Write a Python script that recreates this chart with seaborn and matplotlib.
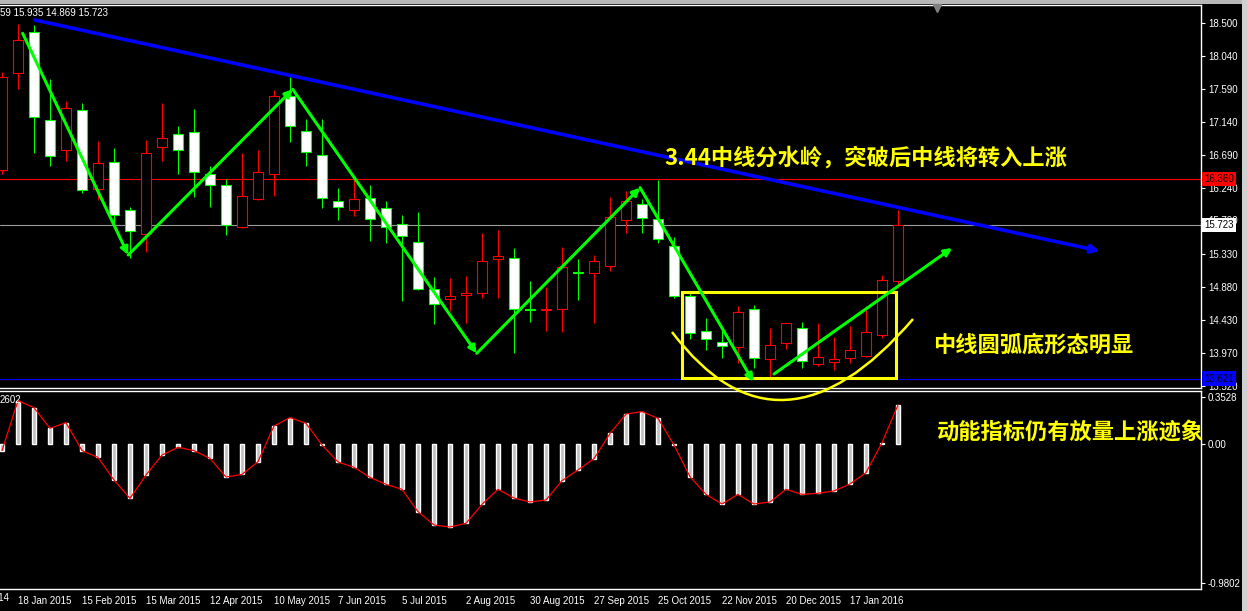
import numpy as np
import pandas as pd
import matplotlib
matplotlib.use('Agg')
import matplotlib.pyplot as plt
import matplotlib.transforms as mtrans
from matplotlib.patches import Rectangle, PathPatch
from matplotlib.path import Path
import seaborn as sns

# ---------------- data ----------------
dates = pd.date_range('2015-01-11', periods=57, freq='W-SUN')
opens = [16.48, 17.81, 18.37, 17.16, 16.75, 17.30, 16.22, 16.59, 15.93, 15.60,
         16.79, 16.97, 17.00, 16.42, 16.27, 15.70, 16.09, 16.42, 17.50, 17.01,
         16.68, 16.05, 15.93, 16.09, 15.96, 15.74, 15.49, 14.85, 14.71, 14.77,
         14.80, 15.26, 15.28, 14.58, 14.56, 14.57, 15.075, 15.07, 15.16, 15.79,
         16.01, 15.81, 15.44, 14.75, 14.27, 14.12, 14.05, 14.57, 13.89, 14.11,
         14.31, 13.82, 13.85, 13.90, 13.93, 14.22, 14.959]
highs = [17.82, 18.48, 18.47, 17.73, 17.43, 17.40, 16.88, 16.78, 15.97, 16.89,
         17.40, 17.08, 17.32, 16.54, 16.36, 16.72, 16.76, 17.58, 17.75, 17.18,
         17.18, 16.23, 16.37, 16.28, 16.06, 15.86, 15.91, 15.01, 15.00, 15.03,
         15.62, 15.66, 15.41, 14.96, 14.88, 15.43, 15.26, 15.32, 16.11, 16.19,
         16.09, 16.35, 15.56, 14.79, 14.45, 14.29, 14.62, 14.63, 14.31, 14.39,
         14.40, 14.38, 14.19, 14.34, 14.56, 15.04, 15.935]
lows = [16.42, 17.59, 16.72, 16.54, 16.60, 16.17, 16.07, 15.75, 15.27, 15.36,
        16.61, 16.43, 16.11, 15.98, 15.59, 15.69, 16.07, 16.13, 16.87, 16.54,
        15.96, 15.80, 15.85, 15.51, 15.48, 14.68, 14.83, 14.37, 14.55, 14.38,
        14.73, 14.72, 13.97, 14.40, 14.27, 14.26, 14.70, 14.39, 15.10, 15.62,
        15.62, 15.48, 14.72, 14.17, 14.01, 13.90, 13.83, 13.76, 13.65, 14.03,
        13.77, 13.79, 13.74, 13.83, 13.92, 14.18, 14.869]
closes = [17.76, 18.26, 17.21, 16.67, 17.33, 16.20, 16.57, 15.87, 15.64, 16.71,
          16.92, 16.75, 16.46, 16.27, 15.72, 16.13, 16.46, 17.49, 17.09, 16.73,
          16.10, 15.97, 16.09, 15.81, 15.70, 15.57, 14.85, 14.65, 14.76, 14.80,
          15.23, 15.30, 14.57, 14.56, 14.58, 15.15, 15.07, 15.23, 15.83, 16.05,
          15.82, 15.54, 14.76, 14.24, 14.16, 14.07, 14.53, 13.91, 14.08, 14.38,
          13.86, 13.92, 13.89, 14.01, 14.26, 14.97, 15.723]
macd = [-0.06, 0.392, 0.329, 0.142, 0.193, -0.060, -0.121, -0.326, -0.492, -0.281,
        -0.100, -0.030, -0.060, -0.130, -0.299, -0.275, -0.160, 0.163, 0.238, 0.187,
        -0.009, -0.163, -0.211, -0.302, -0.365, -0.410, -0.612, -0.733, -0.751, -0.718,
        -0.546, -0.410, -0.489, -0.525, -0.507, -0.332, -0.235, -0.133, 0.095, 0.271,
        0.293, 0.232, -0.009, -0.296, -0.456, -0.543, -0.456, -0.543, -0.525, -0.410,
        -0.456, -0.446, -0.425, -0.362, -0.259, 0.012, 0.3528]
price_ticks = [18.500, 18.040, 17.590, 17.140, 16.690, 16.240, 15.790, 15.330,
               14.880, 14.430, 13.970, 13.520]
level_red, level_last, level_blue = 16.360, 15.723, 13.621
header_text = "59 15.935 14.869 15.723"
sub_header = "2602"
sub_labels = ["0.3528", "0.00", "-0.9802"]

# annotation geometry (bar index, price)
blue_trend = [(2.06, 18.537), (68.6, 15.37)]
green_path = [((1.29, 18.355), (7.89, 15.316)),
              ((7.89, 15.316), (18.17, 17.587)),
              ((18.17, 17.587), (29.67, 13.968)),
              ((29.67, 13.968), (39.88, 16.238)),
              ((39.88, 16.238), (46.96, 13.579)),
              ((48.25, 13.684), (59.38, 15.412))]
box_x, box_y = (42.5, 55.875), (13.625, 14.804)
arc_pts = [(41.875, 14.26), (48.6, 12.31), (56.94, 14.438)]
note1 = ("3.44中线分水岭，突破后中线将转入上涨", 41.375, 16.645)
note2 = ("中线圆弧底形态明显", 58.19, 14.082)
note3 = ("动能指标仍有放量上涨迹象", 58.44, 0.109)

# ---------------- style ----------------
sns.set_theme(style='dark')
plt.rcParams.update({
    'figure.facecolor': 'black', 'axes.facecolor': 'black',
    'savefig.facecolor': 'black', 'axes.edgecolor': 'white',
    'axes.grid': False, 'text.color': 'white',
    'xtick.color': 'white', 'ytick.color': 'white',
})
plt.rcParams['font.family'] = ['Liberation Sans', 'DejaVu Sans']
cjk = ['Noto Sans CJK SC', 'DejaVu Sans']
FS = 7

W, H = 1247, 611
fig = plt.figure(figsize=(W / 100, H / 100), dpi=100)


def fx(px):
    return px / W


def fy(py):
    return 1 - py / H


ax = fig.add_axes([0, fy(388), fx(1201), fy(5) - fy(388)])
ax2 = fig.add_axes([0, fy(589), fx(1201), fy(391) - fy(589)])
ax.set_zorder(3)

xlim = (-0.125, 74.9375)
for a in (ax, ax2):
    a.set_facecolor('black')
    a.set_xlim(*xlim)
    for s in ('top', 'right', 'bottom'):
        a.spines[s].set_color('white')
        a.spines[s].set_linewidth(1.0)
    a.spines['left'].set_visible(False)
ax.set_ylim(13.4924, 18.7426)
ax2.set_ylim(-1.3122, 0.4796)

# ---------------- candles ----------------
idx = np.arange(len(opens))
o, h, l, c = map(np.array, (opens, highs, lows, closes))
up = c > o
dn = ~up
bw = 0.625
ax.vlines(idx[up], l[up], h[up], color='#FF0000', lw=0.8, zorder=2)
ax.vlines(idx[dn], l[dn], h[dn], color='#00FF00', lw=0.8, zorder=2)
ax.bar(idx[up], (c - o)[up], bottom=o[up], width=bw, facecolor='black',
       edgecolor='#FF0000', lw=0.8, zorder=3)
ax.bar(idx[dn], (o - c)[dn] + 0.001, bottom=c[dn], width=bw, facecolor='white',
       edgecolor='#00FF00', lw=0.8, zorder=3)

ax.axhline(level_red, color='#FF0000', lw=0.8, zorder=1)
ax.axhline(level_last, color='#9A9A9A', lw=0.8, zorder=1)
ax.axhline(level_blue, color='#0000FF', lw=0.8, zorder=1)

# price axis on the right
ax.yaxis.tick_right()
ax.set_yticks(price_ticks)
ax.set_yticklabels([f"{v:.3f}" for v in price_ticks])
ax.tick_params(axis='y', length=3, width=0.8, pad=2, labelsize=FS,
               colors='white', direction='out')
ax.set_xticks([])
btrans = mtrans.blended_transform_factory(ax.transAxes, ax.transData)
for val, fc in ((level_red, '#FF0000'), (level_last, 'white'), (level_blue, '#0000FF')):
    ax.text(1.0028, val, f"{val:.3f}", transform=btrans, ha='left', va='center',
            fontsize=FS, color='black', zorder=10, clip_on=False,
            bbox=dict(boxstyle='square,pad=0.22', fc=fc, ec='none'))

ax.text(0.0, 0.979, header_text, transform=ax.transAxes, ha='left', va='center',
        fontsize=FS, color='white')

# ---------------- annotations ----------------
ax.annotate('', xy=blue_trend[1], xytext=blue_trend[0], annotation_clip=False,
            arrowprops=dict(arrowstyle='-|>', color='#0000FF', lw=2.6,
                            shrinkA=0, shrinkB=0, mutation_scale=12), zorder=6)
for start, end in green_path:
    ax.annotate('', xy=end, xytext=start, annotation_clip=False,
                arrowprops=dict(arrowstyle='-|>', color='#00FF00', lw=2.2,
                                shrinkA=0, shrinkB=0, mutation_scale=11), zorder=7)
ax.add_patch(Rectangle((box_x[0], box_y[0]), box_x[1] - box_x[0], box_y[1] - box_y[0],
                       fill=False, ec='#FFFF00', lw=2.2, zorder=6))
arc = PathPatch(Path(arc_pts, [Path.MOVETO, Path.CURVE3, Path.CURVE3]),
                fill=False, ec='#FFFF00', lw=1.8, zorder=6, clip_on=False)
ax.add_patch(arc)

for txt, x, y in (note1, note2):
    ax.text(x, y, txt, ha='left', va='center', fontsize=16, fontweight='bold',
            color='#FFFF00', family=cjk, zorder=8)

# chart shift marker
ax.plot([58.44], [18.70], marker='v', color='#808080', ms=6, clip_on=False, zorder=9)

# ---------------- momentum sub-window ----------------
ax2.bar(idx, macd, width=0.19, color='#C0C0C0', zorder=2)
sns.lineplot(x=idx, y=macd, ax=ax2, color='#FF0000', lw=0.9, zorder=3, legend=False)
ax2.set_xlabel('')
ax2.set_ylabel('')
ax2.text(0.0, 0.955, sub_header, transform=ax2.transAxes, ha='left', va='center',
         fontsize=FS, color='white')
ax2.text(note3[1], note3[2], note3[0], ha='left', va='center', fontsize=16,
         fontweight='bold', color='#FFFF00', family=cjk, zorder=8)

lo, hi = ax2.get_ylim()
sub_pos = [lo + 0.97 * (hi - lo), 0.0, lo + 0.032 * (hi - lo)]
ax2.yaxis.tick_right()
ax2.set_yticks(sub_pos)
ax2.set_yticklabels(sub_labels)
ax2.tick_params(axis='y', length=3, width=0.8, pad=2, labelsize=FS, colors='white')

tick_idx = idx[1::4]
ax2.set_xticks(tick_idx)
ax2.set_xticklabels([f"{d.day} {d.strftime('%b %Y')}" for d in dates[1::4]])
ax2.tick_params(axis='x', length=3, width=0.8, pad=2, labelsize=FS, colors='white')
for lbl in ax2.get_xticklabels():
    lbl.set_ha('left')
prev = dates[0] - pd.Timedelta(weeks=3)
ax2.text(-3, -0.045, f"{prev.day} {prev.strftime('%b %Y')}",
         transform=mtrans.blended_transform_factory(ax2.transData, ax2.transAxes),
         ha='left', va='center', fontsize=FS, color='white', clip_on=False)

# window chrome
fig.patches.append(Rectangle((0, fy(4)), 1, 4 / H, transform=fig.transFigure,
                             fc='#B8B8B8', ec='none', zorder=0))
fig.patches.append(Rectangle((fx(1242), 0), 1 - fx(1242), 1, transform=fig.transFigure,
                             fc='#D0D0D0', ec='none', zorder=0))

fig.savefig('out.png', dpi=100, facecolor='black')
